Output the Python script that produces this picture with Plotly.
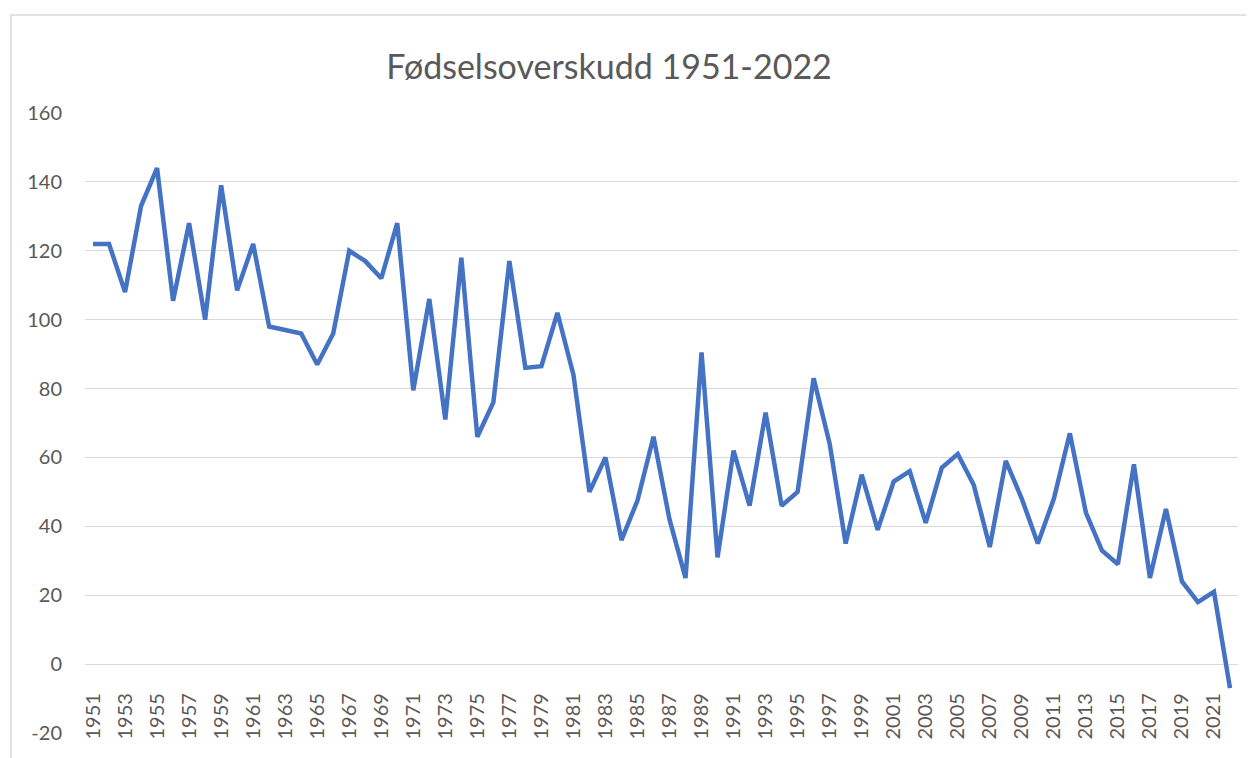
import plotly.graph_objects as go

years = list(range(1951, 2023))
values = [122, 122, 108, 133, 144, 105.5, 128, 100, 139, 108.5,
          122, 98, 97, 96, 87, 96, 120, 117, 112, 128,
          79.5, 106, 71, 118, 66, 76, 117, 86, 86.5, 102,
          84, 50, 60, 36, 47.5, 66, 42, 25, 90.5, 31,
          62, 46, 73, 46, 50, 83, 64, 35, 55, 39,
          53, 56, 41, 57, 61, 52, 34, 59, 48, 35,
          48, 67, 44, 33, 29, 58, 25, 45, 24, 18,
          21, -7]
tick_years = list(range(1951, 2022, 2))
tick_labels = [str(y) for y in tick_years]
y_ticks = list(range(-20, 161, 20))
y_tick_labels = [str(v) for v in y_ticks]
title_text = "Fødselsoverskudd 1951-2022"

# page body has an 8px margin, so the figure is offset by 8px
OFF = 8
W, H = 1254 - OFF, 758 - OFF
ML, MR, MT, MB = 85 - OFF, 16, 113 - OFF, 25
ymin, ymax = -20, 160
pw = W - ML - MR
ph = H - MT - MB

fig = go.Figure()
fig.add_trace(go.Scatter(
    x=years, y=values, mode="lines",
    line=dict(color="#4472C4", width=4.5),
    showlegend=False, hoverinfo="x+y",
))

font_fam = "Lato, 'Open Sans', sans-serif"
fig.update_layout(
    width=W, height=H,
    margin=dict(l=ML, r=MR, t=MT, b=MB),
    paper_bgcolor="white", plot_bgcolor="white",
    font=dict(family=font_fam, color="#595959"),
    title=dict(text=title_text, x=(609 - OFF) / W, xanchor="center",
               y=1 - (67 - OFF) / H, yanchor="middle",
               font=dict(size=34, color="#595959", family=font_fam)),
    xaxis=dict(
        range=[years[0] - 0.5, years[-1] + 0.5],
        tickmode="array", tickvals=tick_years, ticktext=tick_labels,
        tickangle=-90, showgrid=False, zeroline=False, showline=False,
        ticks="", anchor="free", position=(0 - ymin) / (ymax - ymin),
        ticklabelstandoff=24,
        tickfont=dict(size=20, color="#595959"),
    ),
    yaxis=dict(
        range=[ymin, ymax], tickmode="array", tickvals=y_ticks,
        ticktext=y_tick_labels,
        showgrid=True, gridcolor="#d9d9d9", gridwidth=1,
        zeroline=False, showline=False, ticks="",
        ticklabelstandoff=22,
        tickfont=dict(size=20, color="#595959"),
    ),
)

# light chart border (left and top edges visible)
fig.add_shape(type="rect", xref="paper", yref="paper",
              x0=(11 - OFF - ML) / pw, x1=(W + 10 - ML) / pw,
              y0=(H - MB - (H + 10)) / ph, y1=(H - MB - (15 - OFF)) / ph,
              line=dict(color="#d9d9d9", width=1.5), layer="below")

fig.write_html("out.html")
